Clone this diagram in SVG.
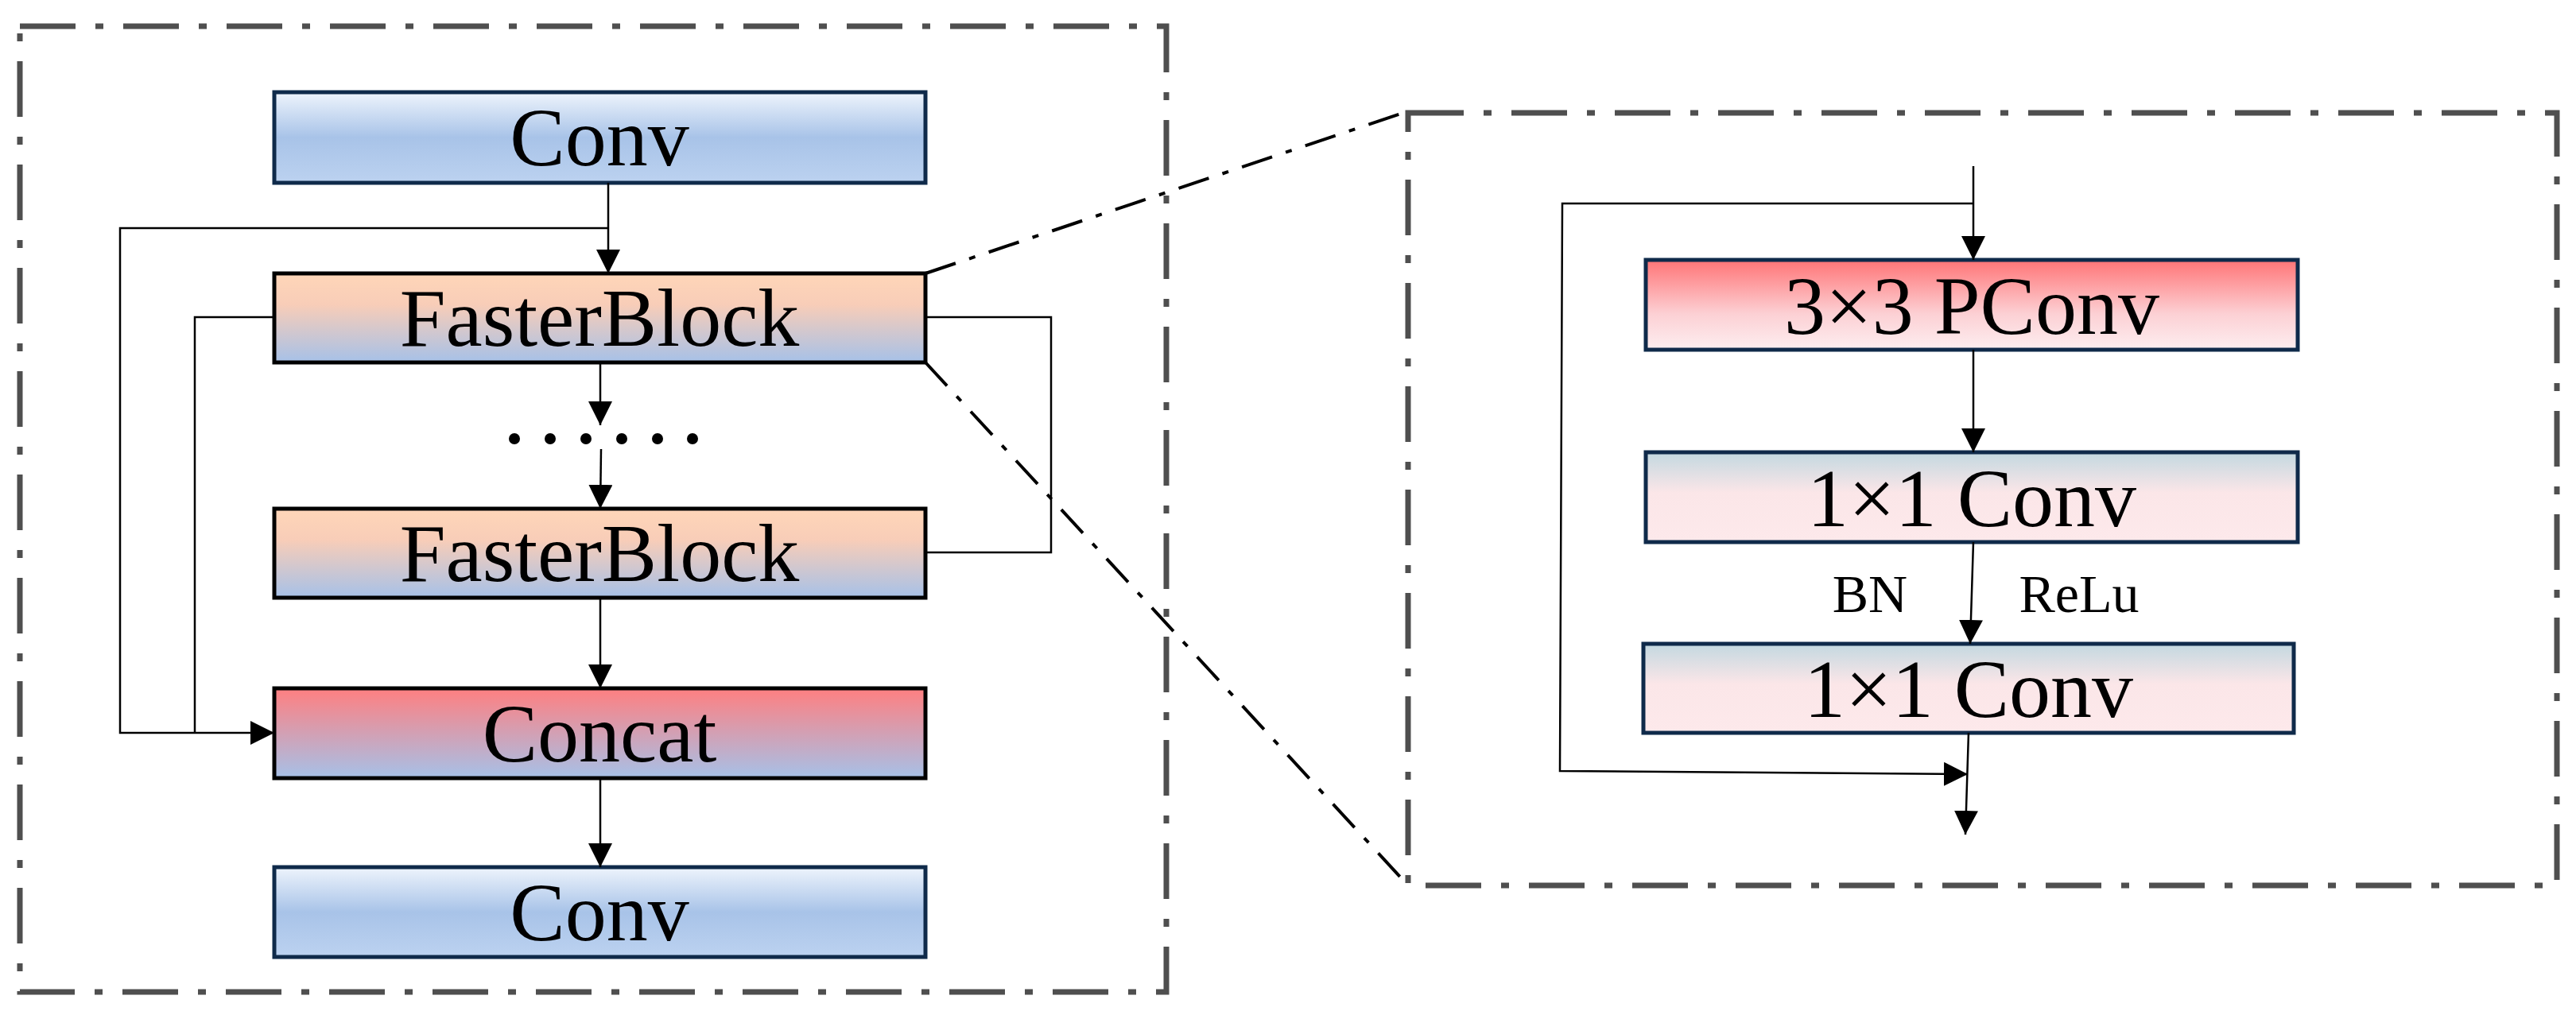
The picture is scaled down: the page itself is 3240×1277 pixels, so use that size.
<svg xmlns="http://www.w3.org/2000/svg" width="3240" height="1277" viewBox="0 0 3240 1277">
<defs>
<linearGradient id="gBlue" x1="0" y1="0" x2="0" y2="1"><stop offset="0" stop-color="#eef4fc"/><stop offset="0.5" stop-color="#a8c3e8"/><stop offset="1" stop-color="#bcd2f0"/></linearGradient>
<linearGradient id="gFast" x1="0" y1="0" x2="0" y2="1"><stop offset="0" stop-color="#ffd6b8"/><stop offset="0.35" stop-color="#f8cdb8"/><stop offset="1" stop-color="#a6c1e8"/></linearGradient>
<linearGradient id="gCat" x1="0" y1="0" x2="0" y2="1"><stop offset="0" stop-color="#ff7f80"/><stop offset="1" stop-color="#a6c1e8"/></linearGradient>
<linearGradient id="gP" x1="0" y1="0" x2="0" y2="1"><stop offset="0" stop-color="#ff7476"/><stop offset="0.6" stop-color="#fcd0d4"/><stop offset="1" stop-color="#fdeef0"/></linearGradient>
<linearGradient id="g1" x1="0" y1="0" x2="0" y2="1"><stop offset="0" stop-color="#c3d8e0"/><stop offset="0.45" stop-color="#fbe6e8"/><stop offset="1" stop-color="#fde9eb"/></linearGradient>
<marker id="ar" viewBox="0 0 10 10" refX="10" refY="5" markerWidth="30" markerHeight="30" markerUnits="userSpaceOnUse" orient="auto"><path d="M0,0 L10,5 L0,10 z" fill="#000"/></marker>
</defs>
<style>
.frame{fill:none;stroke:#4f4f4f;stroke-width:7;stroke-dasharray:70 25 10 25}
.zoom{fill:none;stroke:#000;stroke-width:4;stroke-dasharray:40 18 8 18}
.ln{fill:none;stroke:#000;stroke-width:2.5}
.bn{stroke:#0f2a4a;stroke-width:5}
.bk{stroke:#000;stroke-width:5}
.t{font-family:"Liberation Serif","Times New Roman",serif;font-size:104px;text-anchor:middle;fill:#000}
.s{font-family:"Liberation Serif","Times New Roman",serif;font-size:68px;text-anchor:middle;fill:#000}
</style>
<rect class="frame" x="25" y="33" width="1442" height="1215"/>
<rect class="frame" x="1771" y="142" width="1445" height="972"/>
<g id="conv1"><rect class="bn" x="345" y="116" width="819" height="114" fill="url(#gBlue)"/><text class="t" x="754" y="208">Conv</text></g>
<g id="faster1"><rect class="bk" x="345" y="344" width="819" height="112" fill="url(#gFast)"/><text class="t" x="754" y="435">FasterBlock</text></g>
<g id="dots" fill="#000"><circle cx="647" cy="552" r="7"/><circle cx="692" cy="552" r="7"/><circle cx="737" cy="552" r="7"/><circle cx="782" cy="552" r="7"/><circle cx="827" cy="552" r="7"/><circle cx="871" cy="552" r="7"/></g>
<g id="faster2"><rect class="bk" x="345" y="640" width="819" height="112" fill="url(#gFast)"/><text class="t" x="754" y="731">FasterBlock</text></g>
<g id="concat"><rect class="bk" x="345" y="866" width="819" height="113" fill="url(#gCat)"/><text class="t" x="754" y="958">Concat</text></g>
<g id="conv2"><rect class="bn" x="345" y="1091" width="819" height="113" fill="url(#gBlue)"/><text class="t" x="754" y="1183">Conv</text></g>
<g id="pconv"><rect class="bn" x="2070" y="327" width="820" height="113" fill="url(#gP)"/><text class="t" x="2480" y="420">3×3 PConv</text></g>
<g id="c11a"><rect class="bn" x="2070" y="569" width="820" height="113" fill="url(#g1)"/><text class="t" x="2480" y="662">1×1 Conv</text></g>
<g id="c11b"><rect class="bn" x="2067" y="810" width="818" height="112" fill="url(#g1)"/><text class="t" x="2476" y="902">1×1 Conv</text></g>
<g id="labels"><text class="s" x="2352" y="770">BN</text><text class="s" x="2615" y="770">ReLu</text></g>
<g id="connectors">
<line class="zoom" x1="1164" y1="344" x2="1771" y2="140"/>
<line class="zoom" x1="1164" y1="456" x2="1771" y2="1114"/>
<line class="ln" x1="765" y1="230" x2="765" y2="344" marker-end="url(#ar)"/>
<polyline class="ln" points="765,287 151,287 151,922 345,922" marker-end="url(#ar)"/>
<polyline class="ln" points="345,399 245,399 245,922"/>
<line class="ln" x1="755" y1="456" x2="755" y2="535" marker-end="url(#ar)"/>
<line class="ln" x1="756" y1="565" x2="755" y2="640" marker-end="url(#ar)"/>
<polyline class="ln" points="1164,399 1322,399 1322,695 1164,695"/>
<line class="ln" x1="755" y1="752" x2="755" y2="866" marker-end="url(#ar)"/>
<line class="ln" x1="755" y1="979" x2="755" y2="1091" marker-end="url(#ar)"/>
<line class="ln" x1="2482" y1="209" x2="2482" y2="327" marker-end="url(#ar)"/>
<polyline class="ln" points="2482,256 1965,256 1962,970 2475,974" marker-end="url(#ar)"/>
<line class="ln" x1="2482" y1="440" x2="2482" y2="569" marker-end="url(#ar)"/>
<line class="ln" x1="2482" y1="682" x2="2478" y2="810" marker-end="url(#ar)"/>
<line class="ln" x1="2476" y1="922" x2="2472" y2="1050" marker-end="url(#ar)"/>
</g>
</svg>
